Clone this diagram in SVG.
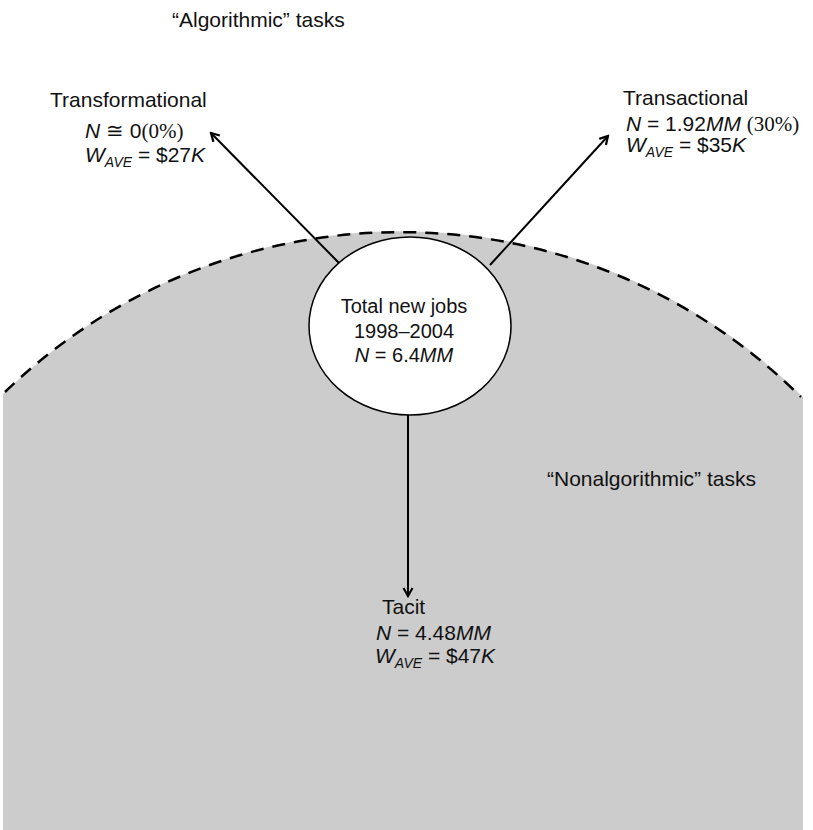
<svg xmlns="http://www.w3.org/2000/svg" width="813" height="830" viewBox="0 0 813 830">
  <style>
    text { font-family: "Liberation Sans", Arial, sans-serif; fill: #111; }
    .lbl { font-size: 21px; }
    .ctr { font-size: 20px; text-anchor: middle; }
    .it { font-style: italic; }
    .sub { font-size: 14px; font-style: italic; }
    .serif { font-family: "Liberation Serif", "Times New Roman", serif; }
    .edge { stroke: #000; stroke-width: 2; fill: none; marker-end: url(#arrow); }
  </style>
  <defs>
    <marker id="arrow" viewBox="0 0 12 12" refX="10" refY="6" markerWidth="12" markerHeight="12" markerUnits="userSpaceOnUse" orient="auto">
      <path d="M2,1.5 L10,6 L2,10.5" fill="none" stroke="#000" stroke-width="2.2"/>
    </marker>
  </defs>

  <rect width="813" height="830" fill="#fff"/>

  <!-- nonalgorithmic region: grey dome with dashed boundary -->
  <g id="region">
    <path d="M3,394 A569,569 0 0 1 803,397 L803,830 L3,830 Z" fill="#cccccc"/>
    <path d="M5,392 A569,569 0 0 1 801,397" fill="none" stroke="#000" stroke-width="2.5" stroke-dasharray="13,9"/>
  </g>

  <text id="algorithmic-label" class="lbl" x="172" y="27">“Algorithmic”  tasks</text>
  <text id="nonalgorithmic-label" class="lbl" x="547" y="486">“Nonalgorithmic”  tasks</text>

  <g id="connectors">
    <line class="edge" x1="339" y1="263" x2="211" y2="133"/>
    <line class="edge" x1="490" y1="265" x2="608" y2="136"/>
    <line class="edge" x1="408" y1="415" x2="408" y2="596"/>
  </g>

  <g id="total">
    <ellipse cx="410" cy="326" rx="101" ry="89" fill="#fff" stroke="#000" stroke-width="1.5"/>
    <text class="ctr" x="404" y="313">Total new jobs</text>
    <text class="ctr" x="404" y="338">1998–2004</text>
    <text class="ctr" x="404" y="362"><tspan class="it">N</tspan> = 6.4<tspan class="it">MM</tspan></text>
  </g>

  <g id="transformational">
    <text class="lbl" x="50" y="107">Transformational</text>
    <text class="lbl" x="85" y="138"><tspan class="it">N</tspan> ≅ 0<tspan class="serif">(0%)</tspan></text>
    <text class="lbl" x="85" y="162"><tspan class="it">W</tspan><tspan class="sub" dy="5">AVE</tspan><tspan dy="-5"> = $27</tspan><tspan class="it">K</tspan></text>
  </g>

  <g id="transactional">
    <text class="lbl" x="623" y="105">Transactional</text>
    <text class="lbl" x="626" y="131"><tspan class="it">N</tspan> = 1.92<tspan class="it">MM</tspan> <tspan class="serif">(30%)</tspan></text>
    <text class="lbl" x="626" y="152"><tspan class="it">W</tspan><tspan class="sub" dy="5">AVE</tspan><tspan dy="-5"> = $35</tspan><tspan class="it">K</tspan></text>
  </g>

  <g id="tacit">
    <text class="lbl" x="382" y="614">Tacit</text>
    <text class="lbl" x="376" y="640"><tspan class="it">N</tspan> = 4.48<tspan class="it">MM</tspan></text>
    <text class="lbl" x="375" y="663"><tspan class="it">W</tspan><tspan class="sub" dy="5">AVE</tspan><tspan dy="-5"> = $47</tspan><tspan class="it">K</tspan></text>
  </g>
</svg>
